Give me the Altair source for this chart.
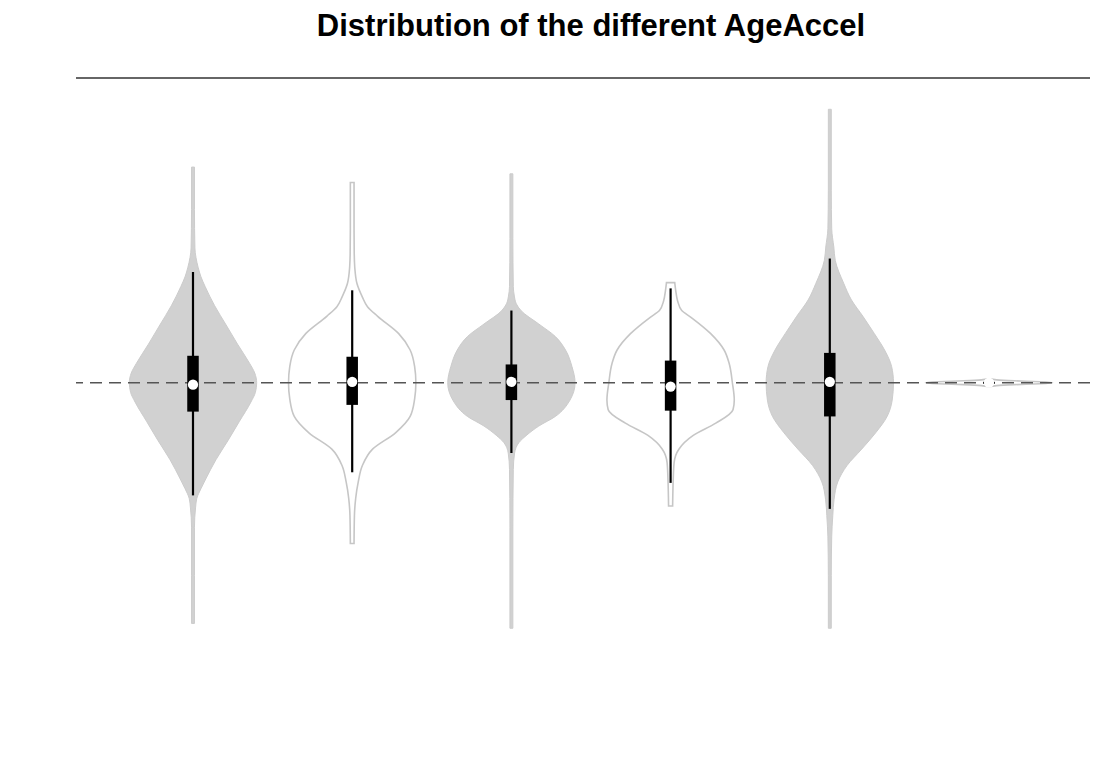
import json
import altair as alt
import pandas as pd

FONT = "Liberation Sans, Arial, Helvetica, sans-serif"

NAMES = ["Horvath", "Hannum", "EN", "GrimAge", "PhenoAge", "DNAmTL"]
FILLED = {"Horvath", "EN", "PhenoAge"}

# violin outlines: y value and relative density (1 = widest point)
HORVATH_Y = [22.4, 18.0, 14.0, 13.0, 12.0, 11.0, 10.0, 8.0, 6.0, 4.0, 2.0, 1.0, 0.0, -1.0, -2.0,
             -4.0, -6.0, -8.0, -10.0, -11.0, -12.0, -13.0, -15.0, -20.0, -25.0]
HORVATH_D = [0.023, 0.023, 0.03, 0.047, 0.08, 0.125, 0.19, 0.34, 0.52, 0.70, 0.89, 0.97, 1.0, 0.98,
             0.91, 0.73, 0.55, 0.36, 0.20, 0.125, 0.06, 0.04, 0.023, 0.023, 0.023]

HANNUM_Y = [20.8, 16.0, 13.4, 12.0, 10.3, 8.9, 7.9, 6.9, 5.1, 3.4, 1.7, 0.0, -1.7, -3.5, -5.2,
            -6.9, -8.6, -10.3, -12.0, -13.8, -16.7]
HANNUM_D = [0.029, 0.029, 0.032, 0.04, 0.075, 0.16, 0.24, 0.40, 0.73, 0.91, 0.98, 1.0, 0.98, 0.91,
            0.68, 0.32, 0.16, 0.095, 0.055, 0.035, 0.029]

EN_Y = [21.7, 15.0, 10.0, 9.0, 8.2, 7.5, 6.1, 4.8, 3.4, 1.7, 0.0, -1.8, -3.5, -4.5, -5.5, -6.2,
        -7.3, -9.0, -15.0, -25.5]
EN_D = [0.023, 0.023, 0.03, 0.046, 0.077, 0.15, 0.43, 0.69, 0.85, 0.95, 1.0, 0.92, 0.69, 0.43,
        0.23, 0.12, 0.05, 0.03, 0.023, 0.023]

GRIM_Y = [10.4, 9.6, 8.5, 7.5, 6.8, 5.1, 3.4, 2.0, 0.0, -1.8, -2.8, -4.2, -5.5, -6.9, -8.3,
          -10.3, -12.8]
GRIM_D = [0.065, 0.08, 0.11, 0.175, 0.32, 0.63, 0.84, 0.92, 0.97, 1.0, 0.98, 0.71, 0.35, 0.13,
          0.055, 0.04, 0.032]

PHENO_Y = [28.4, 20.0, 16.0, 14.1, 12.7, 10.3, 8.6, 6.9, 5.1, 3.4, 1.7, 0.0, -1.8, -3.5, -5.2,
           -6.9, -8.6, -10.3, -12.1, -13.8, -16.0, -20.0, -25.5]
PHENO_D = [0.023, 0.023, 0.03, 0.063, 0.086, 0.22, 0.34, 0.52, 0.70, 0.86, 0.97, 1.0, 0.98, 0.90,
           0.72, 0.50, 0.27, 0.125, 0.067, 0.047, 0.03, 0.023, 0.023]

DNAMTL_Y = [0.4, 0.3, 0.2, 0.1, 0.0, -0.1, -0.2, -0.3, -0.4]
DNAMTL_D = [0.02, 0.12, 0.4, 0.8, 1.0, 0.8, 0.4, 0.12, 0.02]

PROFILE_Y = [HORVATH_Y, HANNUM_Y, EN_Y, GRIM_Y, PHENO_Y, DNAMTL_Y]
PROFILE_D = [HORVATH_D, HANNUM_D, EN_D, GRIM_D, PHENO_D, DNAMTL_D]

# box-plot statistics
WHISK_LO = [-11.7, -9.3, -7.3, -10.4, -13.1, -0.3]
WHISK_HI = [11.5, 9.6, 7.5, 9.8, 12.9, 0.3]
Q1 = [-3.0, -2.3, -1.8, -2.9, -3.5, -0.1]
Q3 = [2.8, 2.7, 1.9, 2.3, 3.1, 0.1]
MEDIAN = [-0.2, 0.1, 0.1, -0.4, 0.1, 0.0]

Y_TICKS = [-20, -10, 0, 10, 20, 30]

WEX = 0.4  # half width of widest violin point, in x units
Y_MIN, Y_MAX = -28.9, 31.65

rows = []
for i, name in enumerate(NAMES):
    pos = i + 1
    for y, d in zip(PROFILE_Y[i], PROFILE_D[i]):
        rows.append({"name": name, "pos": pos, "y": y, "d": d,
                     "filled": name in FILLED})
vdf = pd.DataFrame(rows)
sdf = pd.DataFrame({"name": NAMES, "pos": list(range(1, len(NAMES) + 1)),
                    "wlo": WHISK_LO, "whi": WHISK_HI, "q1": Q1, "q3": Q3, "med": MEDIAN})

W, H = 1014, 583
xs = alt.Scale(domain=[0.2651, 6.6344], nice=False, zero=False)
ys = alt.Scale(domain=[Y_MIN, Y_MAX], nice=False, zero=False)

x_axis = alt.Axis(orient="bottom", values=list(range(1, len(NAMES) + 1)),
                  labelExpr=json.dumps(NAMES) + "[datum.value - 1]",
                  title="AgeAccel", grid=False, tickSize=12, labelPadding=5,
                  labelFontSize=25.5, labelFont=FONT, labelColor="black",
                  titleFontSize=29, titleFont=FONT, titleFontWeight="normal", titleColor="black",
                  titleY=91.5, titleX=515, titleBaseline="alphabetic",
                  domainColor="#333333", domainWidth=1.6, tickColor="#333333", tickWidth=1.4,
                  labelFlush=False)
y_axis = alt.Axis(orient="left", values=Y_TICKS, labelExpr="'' + datum.value", title=None,
                  grid=False, tickSize=12, labelPadding=16, labelFontSize=25, labelFont=FONT,
                  labelColor="black", domainColor="#333333", domainWidth=1.6,
                  tickColor="#333333", tickWidth=1.4, labelFlush=False)

base_v = alt.Chart(vdf).transform_calculate(
    lo=f"datum.pos - datum.d * {WEX}", hi=f"datum.pos + datum.d * {WEX}")

filled = base_v.transform_filter("datum.filled").mark_area(
    orient="horizontal", interpolate="monotone",
    fill="#d1d1d1", stroke="#cccccc", strokeWidth=1
).encode(
    y=alt.Y("y:Q", scale=ys, axis=None),
    x=alt.X("lo:Q", scale=xs, axis=None),
    x2="hi:Q",
    detail="name:N",
)

outline = base_v.transform_filter("!datum.filled").mark_area(
    orient="horizontal", interpolate="monotone",
    fill="white", stroke="#c6c6c6", strokeWidth=1.6
).encode(
    y=alt.Y("y:Q", scale=ys, axis=None),
    x=alt.X("lo:Q", scale=xs, axis=None),
    x2="hi:Q",
    detail="name:N",
)

one_row = alt.Chart(pd.DataFrame({"k": [0]}))

zero = one_row.transform_calculate(zero="0").mark_rule(
    color="#555555", strokeDash=[12, 7], strokeWidth=1.3
).encode(
    y=alt.Y("zero:Q", scale=ys, axis=None)
)

top_frame = one_row.transform_calculate(top=str(Y_MAX)).mark_rule(
    color="#333333", strokeWidth=1.6
).encode(
    y=alt.Y("top:Q", scale=ys, axis=None)
)

whisk = alt.Chart(sdf).mark_rule(color="black", strokeWidth=2.2).encode(
    x=alt.X("pos:Q", scale=xs, axis=None),
    y=alt.Y("wlo:Q", scale=ys, axis=None),
    y2="whi:Q",
)

box = alt.Chart(sdf).mark_rule(color="black", strokeWidth=11.5, strokeCap="butt").encode(
    x=alt.X("pos:Q", scale=xs, axis=None),
    y=alt.Y("q1:Q", scale=ys, axis=None),
    y2="q3:Q",
)

# last layer carries the only axes
med = alt.Chart(sdf).mark_point(filled=True, color="white", opacity=1, size=105, shape="circle").encode(
    x=alt.X("pos:Q", scale=xs, axis=x_axis),
    y=alt.Y("med:Q", scale=ys, axis=y_axis),
)

chart = alt.layer(filled, outline, zero, top_frame, whisk, box, med).properties(
    width=W, height=H,
    title=alt.TitleParams("Distribution of the different AgeAccel", fontSize=31,
                          fontWeight="bold", font=FONT, color="black",
                          anchor="middle", offset=34, dx=8),
    padding={"left": 68, "top": 70, "right": 0, "bottom": 97},
    autosize=alt.AutoSizeParams(type="none"),
).configure(background="white", font=FONT).configure_view(
    stroke="transparent", strokeWidth=0, strokeOpacity=0
).configure_axisRight(domain=False, ticks=False, labels=False)

chart.save("out.html", embed_options={"renderer": "svg", "actions": False})
